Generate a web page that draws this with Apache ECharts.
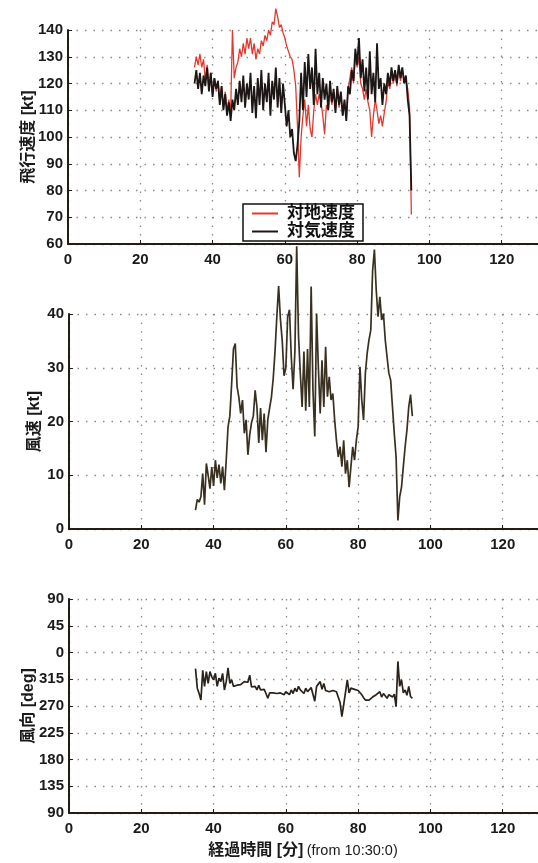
<!DOCTYPE html>
<html><head><meta charset="utf-8">
<script src="https://cdn.jsdelivr.net/npm/echarts@6/dist/echarts.min.js"></script>
<style>html,body{margin:0;padding:0;background:#fff}#c{width:538px;height:863px}</style>
</head><body><div id="c"></div>
<script>
const minutes = [
35,35.5,36,36.5,37,37.5,38,38.5,39,39.5,
40,40.5,41,41.5,42,42.5,43,43.5,44,44.5,
45,45.5,46,46.5,47,47.5,48,48.5,49,49.5,
50,50.5,51,51.5,52,52.5,53,53.5,54,54.5,
55,55.5,56,56.5,57,57.5,58,58.5,59,59.5,
60,60.5,61,61.5,62,62.5,63,63.5,64,64.5,
65,65.5,66,66.5,67,67.5,68,68.5,69,69.5,
70,70.5,71,71.5,72,72.5,73,73.5,74,74.5,
75,75.5,76,76.5,77,77.5,78,78.5,79,79.5,
80,80.5,81,81.5,82,82.5,83,83.5,84,84.5,
85,85.5,86,86.5,87,87.5,88,88.5,89,89.5,
90,90.5,91,91.5,92,92.5,93,93.5,94,94.5,
95];
// 対地速度 [kt]
const groundSpeed = [
126,130,127,131,126,129,121,127,118,124,
116,122,117,121,113,119,111,117,109,114,
109,140,122,126,128,133,130,135,131,137,
133,137,131,135,129,133,131,136,134,138,
136,140,138,143,142,148,145,141,142,139,
137,134,132,130,129,125,119,104,85,100,
108,114,104,112,103,100,110,116,112,116,
113,108,101,112,110,118,112,117,110,118,
111,116,108,113,107,118,122,126,120,130,
126,130,120,118,114,118,113,110,100,108,
114,110,105,108,104,109,113,121,118,124,
120,124,119,126,121,125,122,121,118,111,
71];
// 対気速度 [kt]
const airSpeed = [
120,125,118,124,116,123,119,126,117,124,
115,122,118,121,112,119,110,116,108,113,
106,114,110,118,112,121,113,123,111,120,
114,124,109,119,107,122,112,125,110,120,
113,124,108,121,114,126,111,122,109,120,
112,104,110,100,103,94,91,97,106,124,
110,128,115,131,118,126,112,133,116,124,
111,122,114,120,110,121,113,118,109,119,
112,117,108,114,106,119,116,125,121,133,
127,137,122,129,117,126,114,132,116,124,
113,135,118,122,112,120,116,124,119,126,
121,125,120,127,122,126,120,123,114,108,
80];
// 風速 [kt]
const windSpeed = [
3.5,5.5,5,6,10.3,4.5,12.2,10,7.5,11.5,
8,12.8,9.5,12,8.5,11.6,7.2,12.8,19,21,
27,33.5,34.5,26.5,24.5,21.5,24,17.8,20.3,13.8,
17.5,19.8,21,25.8,22.7,16,22.5,16.5,21.5,14.3,
20.3,22.5,24.5,28,33,39.5,45.2,39,35,28.5,
30,39.5,40.8,32,26,33,52.6,36,29,22.7,
33,22,33.5,22.7,45.1,25.8,17.2,40.1,30,21.5,
31.4,22.7,33.9,24.6,28.3,24,25.2,20.3,16.5,13.4,
15.3,11.6,16.5,10.3,12.8,7.8,11.6,15.3,12.8,16.5,
19,30.2,24,20.3,29,32.7,35.2,37,48,52,
44.5,39.5,43.2,38.9,40.1,35.2,32,29,27.7,22.7,
17.8,13.4,1.6,6,7.8,11.6,15.3,18.4,22.7,25,
21];
// 風向 [deg]
const windDir = [
333,300,291,280,330,303,328,308,328,319,
314,325,303,317,311,325,297,311,334,308,
314,303,306,305,308,306,305,311,308,310,
322,302,303,303,297,305,297,300,298,291,
283,292,289,292,289,291,289,292,294,289,
294,296,289,297,291,300,294,303,297,297,
291,300,294,297,301,300,278,303,300,311,
298,308,296,297,294,297,296,294,294,292,
276,252,272,293,314,292,300,297,298,300,
296,293,289,284,280,283,280,283,285,288,
289,292,294,285,291,290,283,289,292,285,
290,269,345,303,314,292,297,288,303,286,
283];
const seriesNames = ['対地速度', '対気速度'];
const yTitles = ['飛行速度 [kt]', '風速 [kt]', '風向 [deg]'];
const xTitle = '経過時間 [分]';
const xTitleNote = '(from 10:30:0)';

const FONT = "'Liberation Sans','Noto Sans CJK JP',sans-serif";
const AX = '#231d16';
const pairs = arr => minutes.map((t, i) => [t, arr[i]]);

const chart = echarts.init(document.getElementById('c'), null, {renderer: 'canvas'});

function xAxis(gi) {
  return {
    type: 'value', gridIndex: gi, min: 0, max: 140, interval: 20,
    axisLine: {show: true, onZero: false, lineStyle: {color: AX, width: 2}},
    axisTick: {show: true, inside: true, length: 4, lineStyle: {color: AX}},
    axisLabel: {color: '#1a1a1a', fontSize: 15, fontWeight: 'bold', fontFamily: FONT, margin: 8, hideOverlap: false},
    splitLine: {show: true, lineStyle: {color: '#8a8a8a', width: 1.3, type: [1.5, 7]}}
  };
}
function yAxis(gi, min, max, interval, name, gap, fmt) {
  return {
    type: 'value', gridIndex: gi, min, max, interval,
    name, nameLocation: 'middle', nameRotate: 90, nameGap: gap, nameMoveOverlap: false,
    nameTextStyle: {fontSize: 16, fontWeight: 'bold', color: '#1a1a1a', fontFamily: FONT},
    axisLine: {show: true, onZero: false, lineStyle: {color: AX, width: 2}},
    axisTick: {show: true, inside: true, length: 4, lineStyle: {color: AX}},
    axisLabel: {color: '#1a1a1a', fontSize: 15, fontWeight: 'bold', fontFamily: FONT, margin: 5, formatter: fmt},
    splitLine: {show: true, lineStyle: {color: '#8a8a8a', width: 1.3, type: [1.5, 7]}}
  };
}

const option = {
  animation: false,
  backgroundColor: '#fff',
  grid: [
    {left: 68, top: 30, width: 506, height: 214, outerBoundsMode: 'none', containLabel: false},
    {left: 69, top: 314, width: 506, height: 215, outerBoundsMode: 'none', containLabel: false},
    {left: 69, top: 599, width: 506, height: 214, outerBoundsMode: 'none', containLabel: false}
  ],
  xAxis: [xAxis(0), xAxis(1), xAxis(2)],
  yAxis: [
    yAxis(0, 60, 140, 10, yTitles[0], 31),
    yAxis(1, 0, 40, 10, yTitles[1], 26),
    yAxis(2, 90, 450, 45, yTitles[2], 32, v => String(v >= 360 ? v - 360 : v))
  ],
  legend: {
    data: seriesNames, orient: 'vertical', left: 243, top: 204,
    icon: 'rect', itemWidth: 26, itemHeight: 2, itemGap: 1,
    padding: [1, 8, 1, 9], borderColor: '#111', borderWidth: 1.5, backgroundColor: '#fff',
    textStyle: {fontSize: 17, fontWeight: 'bold', color: '#111', fontFamily: FONT, lineHeight: 17, padding: [0, 0, 0, 4]}
  },
  graphic: [{
    type: 'text', x: 303, y: 851,
    style: {
      text: '{a|' + xTitle + '} {b|' + xTitleNote + '}',
      align: 'center', verticalAlign: 'middle',
      rich: {
        a: {fontSize: 16, fontWeight: 'bold', fontFamily: FONT, fill: '#1a1a1a'},
        b: {fontSize: 14.5, fontFamily: FONT, fill: '#1a1a1a'}
      }
    }
  }],
  series: [
    {name: seriesNames[0], type: 'line', xAxisIndex: 0, yAxisIndex: 0, data: pairs(groundSpeed),
      symbol: 'none', clip: false, lineStyle: {color: '#e2392f', width: 1.3}, itemStyle: {color: '#e2392f'}},
    {name: seriesNames[1], type: 'line', xAxisIndex: 0, yAxisIndex: 0, data: pairs(airSpeed),
      symbol: 'none', clip: false, lineStyle: {color: '#1c1614', width: 1.8}, itemStyle: {color: '#1c1614'}},
    {name: '風速', type: 'line', xAxisIndex: 1, yAxisIndex: 1, data: pairs(windSpeed),
      symbol: 'none', clip: false, lineStyle: {color: '#3a3020', width: 1.7}},
    {name: '風向', type: 'line', xAxisIndex: 2, yAxisIndex: 2, data: pairs(windDir),
      symbol: 'none', clip: false, lineStyle: {color: '#2a221c', width: 1.7}}
  ]
};
chart.setOption(option);
</script>
</body></html>
